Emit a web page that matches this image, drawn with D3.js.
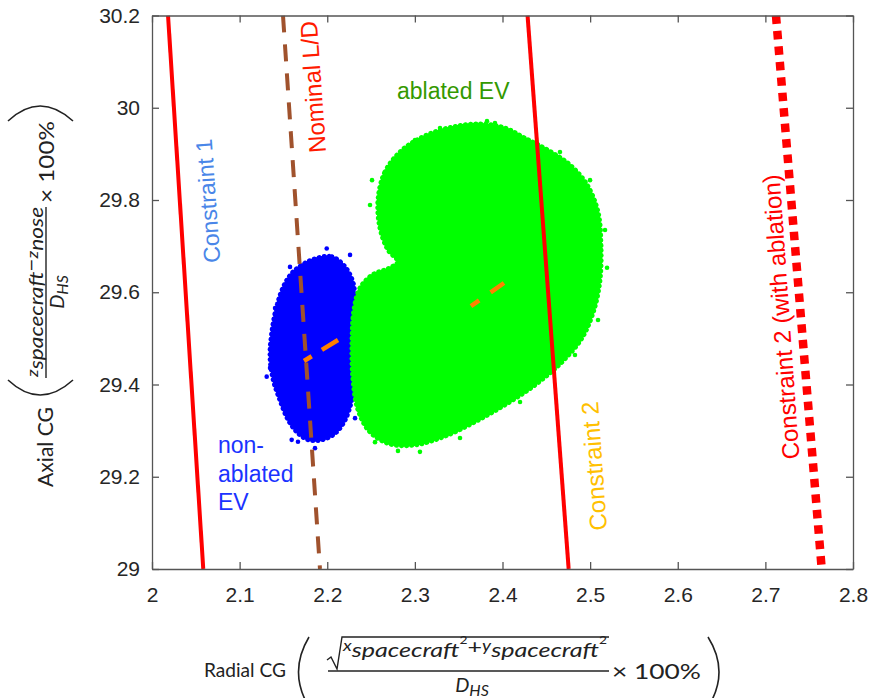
<!DOCTYPE html>
<html><head><meta charset="utf-8">
<script src="https://cdn.jsdelivr.net/npm/d3@7"></script>
<style>body{margin:0;background:#fff}svg{display:block}</style>
</head><body><svg id="c" width="869" height="698"></svg>
<script>
// ---------------- data ----------------
const xTicks = [2, 2.1, 2.2, 2.3, 2.4, 2.5, 2.6, 2.7, 2.8];
const xTickLabels = ["2", "2.1", "2.2", "2.3", "2.4", "2.5", "2.6", "2.7", "2.8"];
const yTicks = [29, 29.2, 29.4, 29.6, 29.8, 30, 30.2];
const yTickLabels = ["29", "29.2", "29.4", "29.6", "29.8", "30", "30.2"];

// constraint lines [radial CG, axial CG]
const constraint1 = [[2.0183, 30.2], [2.0585, 29.0]];
const nominalLD = [[2.1495, 30.2], [2.1917, 29.0]];
const constraint2 = [[2.4286, 30.2], [2.4755, 29.0]];
const constraint2Ablation = [[2.7121, 30.2], [2.7643, 29.0]];

// mean CG shift segments
const nonAblatedShift = [[2.1735, 29.451], [2.2123, 29.4965]];
const ablatedShift = [[2.3640, 29.570], [2.4017, 29.620]];

// outline of the non-ablated EV point cloud
const nonAblatedCloud = [
  [2.1823, 29.670], [2.2051, 29.677], [2.2203, 29.655], [2.2297, 29.619],
  [2.2317, 29.569], [2.2336, 29.511], [2.2336, 29.460], [2.2317, 29.410],
  [2.2279, 29.366], [2.2203, 29.323], [2.2088, 29.294], [2.1937, 29.280],
  [2.1784, 29.280], [2.1670, 29.294], [2.1555, 29.323], [2.1461, 29.366],
  [2.1384, 29.410], [2.1347, 29.460], [2.1366, 29.511], [2.1423, 29.569],
  [2.1518, 29.619], [2.1632, 29.648]
];
const nonAblatedOutliers = [
  [2.2260, 29.681], [2.1994, 29.695], [2.1575, 29.655], [2.1404, 29.566],
  [2.1309, 29.417], [2.1347, 29.436], [2.1594, 29.280], [2.1666, 29.276],
  [2.1860, 29.262], [2.2317, 29.327]
];

// outline of the ablated EV point cloud
const ablatedCloud = [
  [2.2579, 29.800], [2.2659, 29.861], [2.2853, 29.908], [2.3116, 29.939],
  [2.3424, 29.958], [2.3743, 29.965], [2.4029, 29.956], [2.4257, 29.934],
  [2.4519, 29.908], [2.4770, 29.876], [2.4964, 29.833], [2.5090, 29.774],
  [2.5124, 29.702], [2.5113, 29.627], [2.5044, 29.562], [2.4907, 29.501],
  [2.4679, 29.449], [2.4371, 29.399], [2.4029, 29.356], [2.3686, 29.319],
  [2.3344, 29.288], [2.3001, 29.269], [2.2716, 29.271], [2.2488, 29.297],
  [2.2351, 29.345], [2.2294, 29.410], [2.2282, 29.486], [2.2305, 29.562],
  [2.2374, 29.609], [2.2511, 29.637], [2.2716, 29.653], [2.2807, 29.666],
  [2.2693, 29.692], [2.2602, 29.739]
];
const ablatedOutliers = [
  [2.3823, 29.971], [2.3914, 29.967], [2.3287, 29.956], [2.2511, 29.843],
  [2.2488, 29.789], [2.5170, 29.735], [2.5193, 29.653], [2.5090, 29.540],
  [2.4827, 29.464], [2.4200, 29.362], [2.3515, 29.284], [2.3058, 29.254],
  [2.2807, 29.256], [2.2545, 29.275], [2.4999, 29.843], [2.4656, 29.904],
  [2.3001, 29.930]
];

// ---------------- drawing ----------------
const svg = d3.select("#c");
const x = d3.scaleLinear().domain([2, 2.8]).range([152, 853]);
const y = d3.scaleLinear().domain([29, 30.2]).range([569, 15.5]);

const plot = svg.append("g");
const clipId = "clip";
svg.append("defs").append("clipPath").attr("id", clipId)
  .append("rect").attr("x", 152).attr("y", 15.5).attr("width", 701).attr("height", 553.5);

const cloudLine = d3.line().x(d => x(d[0])).y(d => y(d[1])).curve(d3.curveCatmullRomClosed.alpha(0.5));

function drawCloud(outline, outliers, color) {
  plot.append("path").attr("d", cloudLine(outline))
    .attr("fill", color).attr("stroke", color).attr("stroke-width", 2);
  plot.append("path").attr("d", cloudLine(outline))
    .attr("fill", "none").attr("stroke", color).attr("stroke-width", 5)
    .attr("stroke-linecap", "round").attr("stroke-dasharray", "0.1 5");
  plot.selectAll(null).data(outliers).enter().append("circle")
    .attr("cx", d => x(d[0])).attr("cy", d => y(d[1])).attr("r", 2.3).attr("fill", color);
}
drawCloud(nonAblatedCloud, nonAblatedOutliers, "#0000ff");
drawCloud(ablatedCloud, ablatedOutliers, "#00ff00");

const line = d3.line().x(d => x(d[0])).y(d => y(d[1]));
const lines = plot.append("g").attr("clip-path", `url(#${clipId})`);
lines.append("path").attr("d", line(constraint1)).attr("stroke", "#ff0000").attr("stroke-width", 4).attr("fill", "none");
lines.append("path").attr("d", line(nominalLD)).attr("stroke", "#a0522d").attr("stroke-width", 4).attr("fill", "none")
  .attr("stroke-dasharray", "17 12");
lines.append("path").attr("d", line(constraint2)).attr("stroke", "#ff0000").attr("stroke-width", 4).attr("fill", "none");
lines.append("path").attr("d", line(constraint2Ablation)).attr("stroke", "#ff0000").attr("stroke-width", 8.5).attr("fill", "none")
  .attr("stroke-dasharray", "8.5 7");
lines.append("path").attr("d", line(nonAblatedShift)).attr("stroke", "#ff8000").attr("stroke-width", 4.5).attr("fill", "none")
  .attr("stroke-dasharray", "9 12 20");
lines.append("path").attr("d", line(ablatedShift)).attr("stroke", "#ff8000").attr("stroke-width", 4.5).attr("fill", "none")
  .attr("stroke-dasharray", "10 14 20");

// ---------------- axes (box with inward ticks) ----------------
const axColor = "#555";
function styleAxis(g) {
  g.select(".domain").attr("stroke", axColor).attr("stroke-width", 1.3);
  g.selectAll(".tick line").attr("stroke", axColor).attr("stroke-width", 1.3);
  g.selectAll(".tick text").attr("fill", "#262626").style("font-family", "'Liberation Sans', Arial, sans-serif").style("font-size", "21px");
}
svg.append("g").attr("transform", "translate(0,569)")
  .call(d3.axisBottom(x).tickValues(xTicks).tickFormat((d, i) => xTickLabels[i]).tickSizeInner(-7).tickSizeOuter(0).tickPadding(18))
  .call(styleAxis);
svg.append("g").attr("transform", "translate(0,15.5)")
  .call(d3.axisTop(x).tickValues(xTicks).tickFormat(() => "").tickSizeInner(-7).tickSizeOuter(0))
  .call(styleAxis);
svg.append("g").attr("transform", "translate(152,0)")
  .call(d3.axisLeft(y).tickValues(yTicks).tickFormat((d, i) => yTickLabels[i]).tickSizeInner(-7).tickSizeOuter(0).tickPadding(12))
  .call(styleAxis);
svg.append("g").attr("transform", "translate(853,0)")
  .call(d3.axisRight(y).tickValues(yTicks).tickFormat(() => "").tickSizeInner(-7).tickSizeOuter(0))
  .call(styleAxis);

// ---------------- annotations ----------------
const af = "'Liberation Sans', Arial, sans-serif";
function rotText(txt, cx, cy, ang, color, size) {
  svg.append("text").attr("transform", `translate(${cx},${cy}) rotate(${ang})`)
    .attr("text-anchor", "middle").attr("dominant-baseline", "central")
    .style("font-family", af).style("font-size", size + "px").attr("fill", color).text(txt);
}
rotText("Constraint 1", 208, 201, -94, "#4a86e8", 23);
rotText("Nominal L/D", 313, 87, -94, "#ff1a00", 24);
rotText("Constraint 2", 594, 466, -94, "#ffc000", 24);
rotText("Constraint 2 (with ablation)", 781, 317, -94, "#ff0000", 24);

svg.append("text").attr("x", 397).attr("y", 99).style("font-family", af).style("font-size", "23px")
  .attr("fill", "#339900").text("ablated EV");
const na = svg.append("text").style("font-family", af).style("font-size", "23px").attr("fill", "#1a33ff");
["non-", "ablated", "EV"].forEach((t, i) => na.append("tspan").attr("x", 218).attr("y", 453 + i * 28.5).text(t));

// ---------------- axis titles (formula labels) ----------------
const lf = "Lato, 'Open Sans', sans-serif";
const lc = "#222";
// x label
svg.append("text").attr("x", 204).attr("y", 677).style("font-family", lf).style("font-size", "20px").attr("fill", lc)
  .attr("textLength", 82).attr("lengthAdjust", "spacingAndGlyphs").text("Radial CG");
svg.append("path").attr("d", "M309,637 Q288,672 309,707").attr("fill", "none").attr("stroke", lc).attr("stroke-width", 1.6);
svg.append("path").attr("d", "M708,637 Q730,672 708,707").attr("fill", "none").attr("stroke", lc).attr("stroke-width", 1.6);
svg.append("path").attr("d", "M327,660 L331,657 L337,669 L342,637 L609,637").attr("fill", "none").attr("stroke", lc).attr("stroke-width", 1.4);
const num = svg.append("text").attr("x", 343).attr("y", 654).style("font-family", lf).style("font-size", "20px").attr("fill", lc)
  .attr("textLength", 264).attr("lengthAdjust", "spacingAndGlyphs");
num.append("tspan").style("font-style", "italic").style("font-size", "15px").attr("dy", -3).text("x");
num.append("tspan").style("font-style", "italic").attr("dy", 6).text("spacecraft");
num.append("tspan").style("font-size", "11px").attr("dy", -13).text("2");
num.append("tspan").attr("dy", 10).text("+");
num.append("tspan").style("font-style", "italic").style("font-size", "15px").attr("dy", -3).text("y");
num.append("tspan").style("font-style", "italic").attr("dy", 6).text("spacecraft");
num.append("tspan").style("font-size", "11px").attr("dy", -13).text("2");
svg.append("line").attr("x1", 328).attr("x2", 609).attr("y1", 671).attr("y2", 671).attr("stroke", lc).attr("stroke-width", 1.4);
const den = svg.append("text").attr("x", 472).attr("y", 692).attr("text-anchor", "middle").style("font-family", lf)
  .style("font-size", "20px").attr("fill", lc).style("font-style", "italic");
den.append("tspan").text("D");
den.append("tspan").attr("dy", 4).style("font-size", "16px").text("HS");
svg.append("text").attr("x", 612).attr("y", 679).style("font-family", lf).style("font-size", "22px").attr("fill", lc)
  .attr("textLength", 89).attr("lengthAdjust", "spacingAndGlyphs").text("× 100%");

// y label (rotated -90: local x = -screenY, local y = screenX)
const yl = svg.append("g").attr("transform", "rotate(-90)");
yl.append("text").attr("x", -487).attr("y", 53).style("font-family", lf).style("font-size", "22px").attr("fill", lc)
  .attr("textLength", 80).attr("lengthAdjust", "spacingAndGlyphs").text("Axial CG");
svg.append("path").attr("d", "M8,380 Q40,410 73,380").attr("fill", "none").attr("stroke", lc).attr("stroke-width", 1.6);
svg.append("path").attr("d", "M8,121 Q40,91 73,121").attr("fill", "none").attr("stroke", lc).attr("stroke-width", 1.6);
const ynum = yl.append("text").attr("x", -377).attr("y", 38).style("font-family", lf).style("font-size", "19px").attr("fill", lc)
  .attr("textLength", 170).attr("lengthAdjust", "spacingAndGlyphs");
ynum.append("tspan").style("font-style", "italic").style("font-size", "15px").text("z");
ynum.append("tspan").style("font-style", "italic").attr("dy", 5).text("spacecraft");
ynum.append("tspan").attr("dy", -5).text("−");
ynum.append("tspan").style("font-style", "italic").style("font-size", "15px").text("z");
ynum.append("tspan").style("font-style", "italic").attr("dy", 5).text("nose");
yl.append("line").attr("x1", -378).attr("x2", -207).attr("y1", 46).attr("y2", 46).attr("stroke", lc).attr("stroke-width", 1.4);
const yden = yl.append("text").attr("x", -292).attr("y", 64).attr("text-anchor", "middle").style("font-family", lf)
  .style("font-size", "20px").attr("fill", lc).style("font-style", "italic");
yden.append("tspan").text("D");
yden.append("tspan").attr("dy", 4).style("font-size", "16px").text("HS");
yl.append("text").attr("x", -203).attr("y", 54).style("font-family", lf).style("font-size", "21px").attr("fill", lc)
  .attr("textLength", 82).attr("lengthAdjust", "spacingAndGlyphs").text("× 100%");
</script></body></html>
